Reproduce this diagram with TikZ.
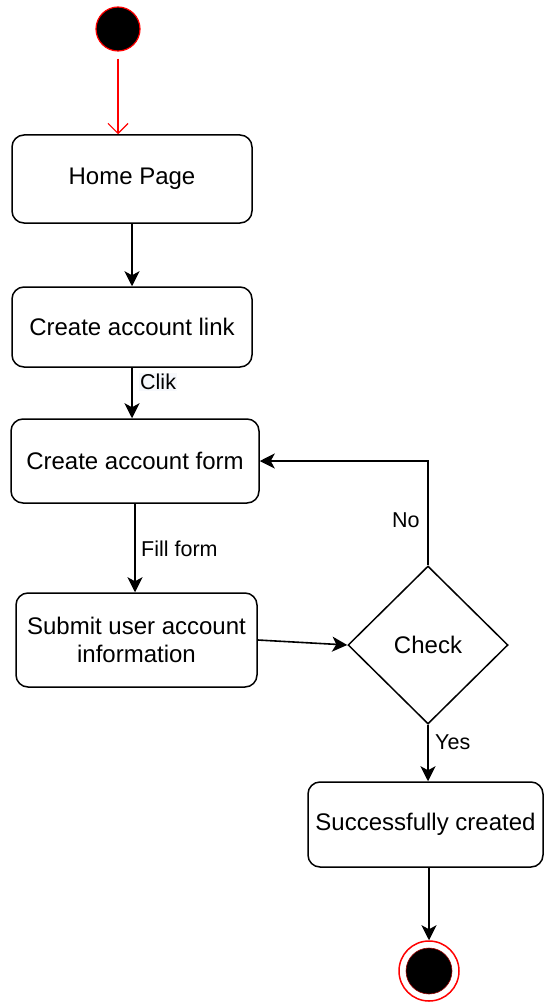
\documentclass[tikz,border=0pt]{standalone}
\usepackage{fontspec}
\setmainfont{Liberation Sans}
\usetikzlibrary{arrows.meta,shapes.geometric}
\definecolor{lblbg}{RGB}{246,248,252}
\tikzset{
  every picture/.style={x=1pt,y=-1pt},
  act/.style={draw=black, line width=1.5pt, rounded corners=12pt, fill=white,
    inner sep=0pt, align=center, font=\fontsize{24}{28}\selectfont},
  decide/.style={draw=black, line width=1.5pt, diamond, fill=white, inner sep=0pt,
    font=\fontsize{24}{28}\selectfont},
  lbl/.style={inner sep=1pt, font=\fontsize{21.5}{26}\selectfont},
  flow/.style={draw=black, line width=1.6pt,
    -{Stealth[length=15pt,width=15pt,inset=4pt]}},
  startflow/.style={draw=red, line width=1.2pt, shorten <=7pt,
    -{Straight Barb[length=10pt,width=20pt,line width=1.2pt]}},
}
\begin{document}
\begin{tikzpicture}
\useasboundingbox (0,0) rectangle (544,1003);

% initial and final states
\node[circle, fill=black, draw=red, line width=1.2pt, minimum size=44pt, inner sep=0pt] (start) at (118,29) {};
\node[circle, draw=red, line width=1.5pt, fill=white, minimum size=60pt, inner sep=0pt] (end) at (429,971) {};
\node[circle, fill=black, draw=red!60!black, line width=0.6pt, minimum size=46pt, inner sep=0pt] (endcore) at (429,971) {};

% activities
\node[act, minimum width=240pt, minimum height=88pt] (home) at (132,179) {Home Page};
\node[act, minimum width=240pt, minimum height=80pt] (link) at (132,327) {Create account link};
\node[act, minimum width=248pt, minimum height=84pt] (form) at (135,461) {Create account form};
\node[act, minimum width=241pt, minimum height=94pt] (submit) at (136.5,640) {Submit user account\\information};
\node[decide, minimum width=160pt, minimum height=158pt] (check) at (428,645) {Check};
\node[act, minimum width=235pt, minimum height=85pt] (success) at (425.5,824.5) {Successfully created};

% transitions
\draw[startflow] (start) -- (start |- home.north);
\draw[flow] (home.south) -- (link.north);
\draw[flow] (link.south) -- (link.south |- form.north);
\draw[flow] (form.south) -- (form.south |- submit.north);
\draw[flow] (submit.east) -- (check.west);
\draw[flow] (check.north) |- (form.east);
\draw[flow] (check.south) -- (check.south |- success.north);
\draw[flow] (end |- success.south) -- (end.north);

% transition labels
\node[lbl, fill=lblbg, anchor=west] (clik) at (139,382) {Clik};
\node[lbl, anchor=west] (fill) at (140,549) {Fill form};
\node[lbl, anchor=west] (no) at (391,520) {No};
\node[lbl, anchor=west] (yes) at (434,742) {Yes};
\end{tikzpicture}
\end{document}
